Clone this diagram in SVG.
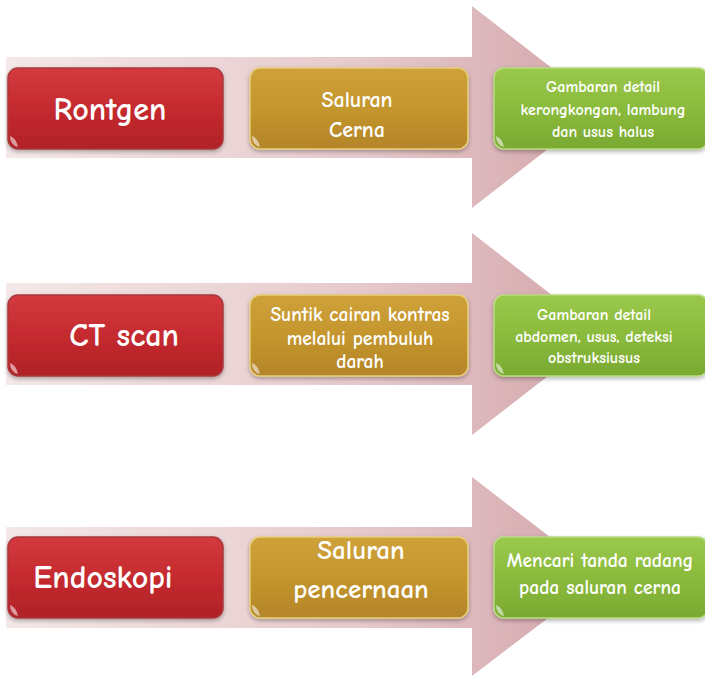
<svg xmlns="http://www.w3.org/2000/svg" width="705" height="676" viewBox="0 0 705 676">
<defs>
<linearGradient id="arrowG" x1="0" y1="0" x2="1" y2="0">
<stop offset="0" stop-color="#f4e8e8"/>
<stop offset="0.6" stop-color="#e6c9cb"/>
<stop offset="1" stop-color="#d3a5aa"/>
</linearGradient>
<linearGradient id="redG" x1="0" y1="0" x2="0" y2="1">
<stop offset="0" stop-color="#d33a3e"/>
<stop offset="0.5" stop-color="#c52a2f"/>
<stop offset="1" stop-color="#b02227"/>
</linearGradient>
<linearGradient id="goldG" x1="0" y1="0" x2="0" y2="1">
<stop offset="0" stop-color="#cfa13a"/>
<stop offset="0.5" stop-color="#c4962d"/>
<stop offset="1" stop-color="#b4852a"/>
</linearGradient>
<linearGradient id="greenG" x1="0" y1="0" x2="0" y2="1">
<stop offset="0" stop-color="#9ac84c"/>
<stop offset="0.5" stop-color="#8bbb3c"/>
<stop offset="1" stop-color="#7aa932"/>
</linearGradient>
<filter id="sh" x="-10%" y="-10%" width="120%" height="130%">
<feDropShadow dx="0" dy="2" stdDeviation="2" flood-color="#000" flood-opacity="0.3"/>
</filter>
</defs>
<style>
.arrow{fill:url(#arrowG)}
.box{filter:url(#sh);stroke-width:1.5}
.red{fill:url(#redG);stroke:#a8383c}
.gold{fill:url(#goldG);stroke:#e8cf7a}
.green{fill:url(#greenG);stroke:#b8dc80}
.hl{fill:#fff;opacity:0.55}
text{font-family:"Comic Sans MS","Comic Neue","Open Sans","DejaVu Sans",sans-serif;fill:#fff;text-anchor:middle;font-weight:bold}
.t1{font-size:32px}
</style>
<g id="arrows">
<path class="arrow" d="M6,57 H472 V6 L602,107 L472,208 V158 H6 Z"/>
<path class="arrow" d="M6,283 H472 V233 L602,334 L472,435 V385 H6 Z"/>
<path class="arrow" d="M6,527 H472 V477 L602,577 L472,676 V628 H6 Z"/>
</g>
<g id="rontgen">
<rect class="box red" x="8" y="68" width="215" height="81" rx="10"/>
<path class="hl" d="M10,136 q6,2 8,11 q-8,-2 -8,-11 Z"/>
<text class="t1" x="110" y="120">Rontgen</text>
</g>
<g id="saluran-cerna">
<rect class="box gold" x="250" y="68" width="218" height="81" rx="10"/>
<path class="hl" d="M252,136 q6,2 8,11 q-8,-2 -8,-11 Z"/>
<text x="357" y="107" font-size="22">Saluran</text>
<text x="357" y="137" font-size="22">Cerna</text>
</g>
<g id="hasil-rontgen">
<rect class="box green" x="494" y="68" width="214" height="81" rx="10"/>
<path class="hl" d="M496,136 q6,2 8,11 q-8,-2 -8,-11 Z"/>
<text x="603" y="92" font-size="16">Gambaran detail</text>
<text x="603" y="115" font-size="16">kerongkongan, lambung</text>
<text x="603" y="137" font-size="16">dan usus halus</text>
</g>
<g id="ctscan">
<rect class="box red" x="8" y="295" width="215" height="81" rx="10"/>
<path class="hl" d="M10,363 q6,2 8,11 q-8,-2 -8,-11 Z"/>
<text class="t1" x="124" y="346">CT scan</text>
</g>
<g id="suntik">
<rect class="box gold" x="250" y="295" width="218" height="81" rx="10"/>
<path class="hl" d="M252,363 q6,2 8,11 q-8,-2 -8,-11 Z"/>
<text x="360" y="321" font-size="19.5">Suntik cairan kontras</text>
<text x="360" y="345" font-size="19.5">melalui pembuluh</text>
<text x="360" y="368" font-size="19.5">darah</text>
</g>
<g id="hasil-ctscan">
<rect class="box green" x="494" y="295" width="214" height="81" rx="10"/>
<path class="hl" d="M496,363 q6,2 8,11 q-8,-2 -8,-11 Z"/>
<text x="594" y="320" font-size="16">Gambaran detail</text>
<text x="594" y="342" font-size="16">abdomen, usus, deteksi</text>
<text x="594" y="363" font-size="16">obstruksiusus</text>
</g>
<g id="endoskopi">
<rect class="box red" x="8" y="537" width="215" height="81" rx="10"/>
<path class="hl" d="M10,605 q6,2 8,11 q-8,-2 -8,-11 Z"/>
<text class="t1" x="103" y="588">Endoskopi</text>
</g>
<g id="saluran-pencernaan">
<rect class="box gold" x="250" y="537" width="218" height="81" rx="10"/>
<path class="hl" d="M252,605 q6,2 8,11 q-8,-2 -8,-11 Z"/>
<text x="361" y="559" font-size="27">Saluran</text>
<text x="361" y="598" font-size="27">pencernaan</text>
</g>
<g id="hasil-endoskopi">
<rect class="box green" x="494" y="537" width="214" height="81" rx="10"/>
<path class="hl" d="M496,605 q6,2 8,11 q-8,-2 -8,-11 Z"/>
<text x="600" y="567" font-size="19.5">Mencari tanda radang</text>
<text x="600" y="594" font-size="19.5">pada saluran cerna</text>
</g>
</svg>
